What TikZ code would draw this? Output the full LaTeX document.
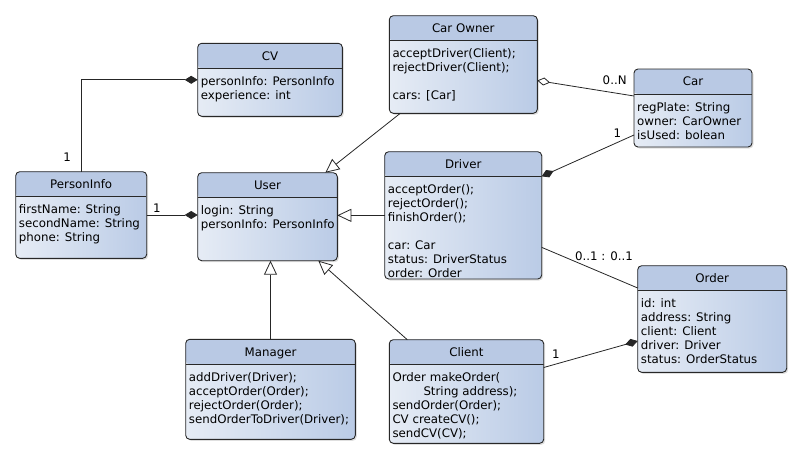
\documentclass[tikz,border=0pt]{standalone}
\usepackage{fontspec}
\setmainfont{DejaVu Sans}
\usetikzlibrary{arrows.meta, shadows}

\definecolor{headfill}{RGB}{185,201,228}
\definecolor{bodyleft}{RGB}{230,236,245}
\definecolor{bodyright}{RGB}{186,203,230}
\definecolor{boxline}{RGB}{40,40,40}

\begin{document}
\begin{tikzpicture}[x=1pt, y=-1pt,
    umlclass/.style={draw=boxline, line width=0.9pt, rounded corners=4pt,
      left color=bodyleft, right color=bodyright,
      drop shadow={shadow xshift=1.5pt, shadow yshift=-1.5pt, opacity=0.25},
      anchor=north west, inner sep=0pt, outer sep=0pt,
      path picture={
        \fill[headfill] (path picture bounding box.north west) rectangle ([yshift=-25pt]path picture bounding box.north east);
        \draw[boxline, line width=0.9pt] ([yshift=-25pt]path picture bounding box.north west) -- ([yshift=-25pt]path picture bounding box.north east);
      }},
    classtitle/.style={font=\fontsize{11.8}{14}\selectfont, text height=8.7pt, text depth=0pt, inner sep=0pt},
    classbody/.style={font=\fontsize{11.8}{14}\selectfont, align=left, anchor=north west, inner sep=0pt, execute at begin node=\strut},
    mult/.style={font=\fontsize{11.8}{14}\selectfont, inner sep=2pt},
    assoc/.style={draw=black!85, line width=0.8pt},
    composition/.style={assoc, -{Diamond[length=13pt, width=8pt]}},
    aggregation/.style={assoc, {Diamond[length=13pt, width=8pt, fill=white]}-},
    generalization/.style={assoc, -{Triangle[length=14pt, width=13pt, fill=white]}}]
  \useasboundingbox (0,0) rectangle (801,459);

  % classes
  \node[umlclass, minimum width=144.6pt, minimum height=73pt] (CV) at (197.7,43.3) {};
  \node[classtitle] (CV_title) at ([yshift=-12.5pt]CV.north) {CV};
  \node[classbody] (CV_body) at ([xshift=3pt, yshift=-33pt]CV.north west) {personInfo: PersonInfo\\experience: int};

  \node[umlclass, minimum width=131pt, minimum height=86.6pt] (PersonInfo) at (15.7,171.7) {};
  \node[classtitle] (PersonInfo_title) at ([yshift=-12.5pt]PersonInfo.north) {PersonInfo};
  \node[classbody] (PersonInfo_body) at ([xshift=3pt, yshift=-33pt]PersonInfo.north west) {firstName: String\\secondName: String\\phone: String};

  \node[umlclass, minimum width=139.6pt, minimum height=88pt] (User) at (197.7,172.7) {};
  \node[classtitle] (User_title) at ([yshift=-12.5pt]User.north) {User};
  \node[classbody] (User_body) at ([xshift=3pt, yshift=-33pt]User.north west) {login: String\\personInfo: PersonInfo};

  \node[umlclass, minimum width=148pt, minimum height=97.6pt] (CarOwner) at (389.3,15.7) {};
  \node[classtitle] (CarOwner_title) at ([yshift=-12.5pt]CarOwner.north) {Car Owner};
  \node[classbody] (CarOwner_body) at ([xshift=3pt, yshift=-33pt]CarOwner.north west) {acceptDriver(Client);\\rejectDriver(Client);\\[14pt]cars: [Car]};

  \node[umlclass, minimum width=118pt, minimum height=78pt] (Car) at (634,69) {};
  \node[classtitle] (Car_title) at ([yshift=-12.5pt]Car.north) {Car};
  \node[classbody] (Car_body) at ([xshift=3pt, yshift=-33pt]Car.north west) {regPlate: String\\owner: CarOwner\\isUsed: bolean};

  \node[umlclass, minimum width=157pt, minimum height=127.3pt] (Driver) at (384.7,151.7) {};
  \node[classtitle] (Driver_title) at ([yshift=-12.5pt]Driver.north) {Driver};
  \node[classbody] (Driver_body) at ([xshift=3pt, yshift=-33pt]Driver.north west) {acceptOrder();\\rejectOrder();\\finishOrder();\\[14pt]car: Car\\status: DriverStatus\\order: Order};

  \node[umlclass, minimum width=149pt, minimum height=106.6pt] (Order) at (637.7,265.7) {};
  \node[classtitle] (Order_title) at ([yshift=-12.5pt]Order.north) {Order};
  \node[classbody] (Order_body) at ([xshift=3pt, yshift=-33pt]Order.north west) {id: int\\address: String\\client: Client\\driver: Driver\\status: OrderStatus};

  \node[umlclass, minimum width=154.4pt, minimum height=103.6pt] (Client) at (389.3,339.7) {};
  \node[classtitle] (Client_title) at ([yshift=-12.5pt]Client.north) {Client};
  \node[classbody] (Client_body) at ([xshift=3pt, yshift=-33pt]Client.north west) {Order makeOrder(\\\hspace*{31pt}String address);\\sendOrder(Order);\\CV createCV();\\sendCV(CV);};

  \node[umlclass, minimum width=169.6pt, minimum height=100pt] (Manager) at (185.7,339.3) {};
  \node[classtitle] (Manager_title) at ([yshift=-12.5pt]Manager.north) {Manager};
  \node[classbody] (Manager_body) at ([xshift=3pt, yshift=-33pt]Manager.north west) {addDriver(Driver);\\acceptOrder(Order);\\rejectOrder(Order);\\sendOrderToDriver(Driver);};

  % relations
  \draw[composition] (PersonInfo.north) |- node[mult, left=8pt, pos=0.08] {1} (CV.west);
  \draw[composition] (PersonInfo.east) -- node[mult, above, pos=0.2] {1} (PersonInfo.east -| User.west);

  \draw[generalization] ([xshift=11pt]CarOwner.south west) -- ([xshift=-12pt]User.north east);
  \draw[generalization] (Driver.west) -- (Driver.west -| User.east);
  \draw[generalization] (Manager.north) -- (Manager.north |- User.south);
  \draw[generalization] ([xshift=18pt]Client.north west) -- ([xshift=-19pt]User.south east);

  \draw[aggregation] ([yshift=-16pt]CarOwner.east) -- node[mult, above=6pt, pos=0.8] {0..N} ([yshift=12pt]Car.west);
  \draw[composition] ([yshift=-27pt]Car.west) -- node[mult, above=3pt, pos=0.18] {1} ([yshift=39pt]Driver.east);
  \draw[assoc] ([yshift=-32pt]Driver.east) -- node[mult, above=11pt, pos=0.65] {0..1 : 0..1} ([yshift=31pt]Order.west);
  \draw[composition] ([yshift=24pt]Client.east) -- node[mult, above=3pt, pos=0.13] {1} ([yshift=-22pt]Order.west);
\end{tikzpicture}
\end{document}
